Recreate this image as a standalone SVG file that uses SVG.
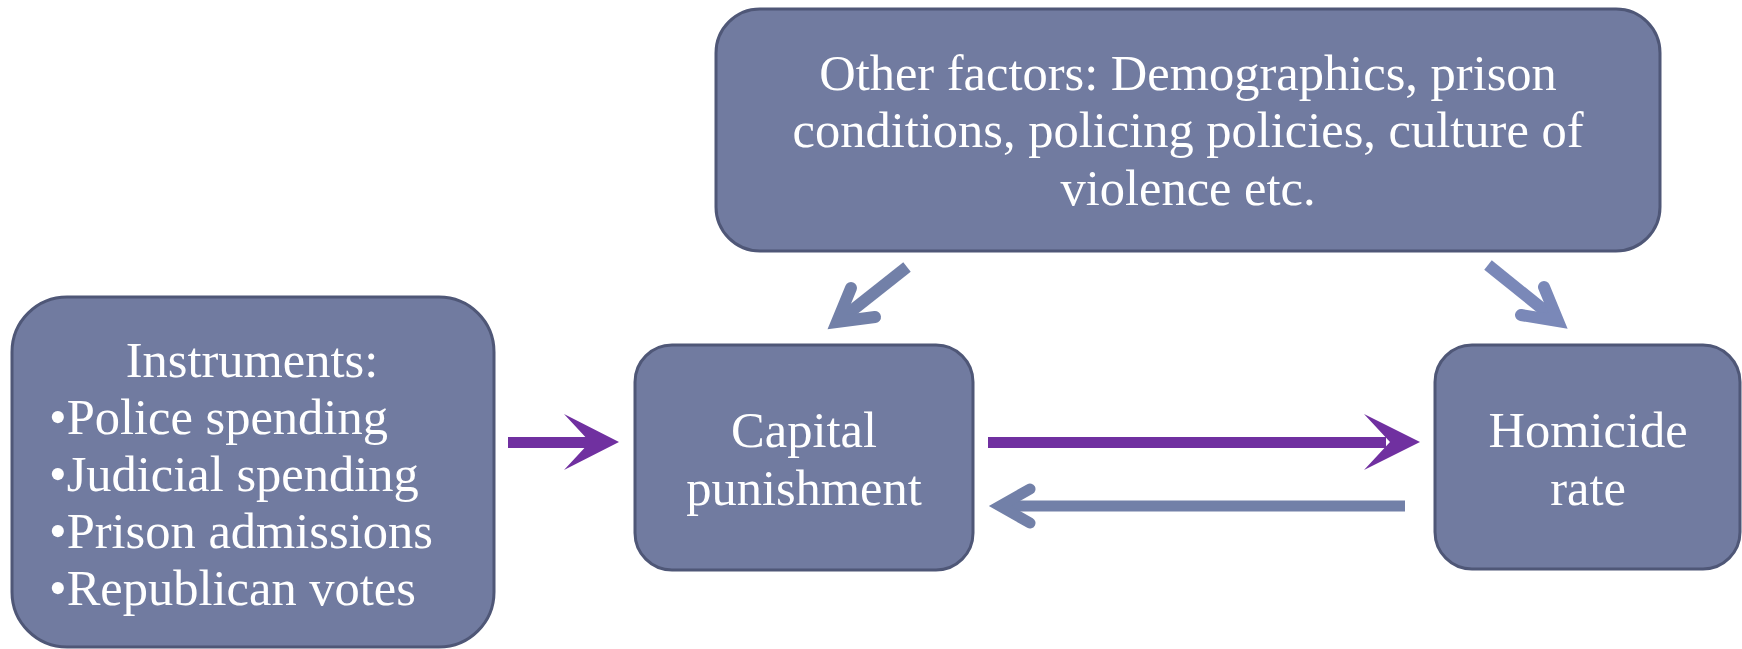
<svg xmlns="http://www.w3.org/2000/svg" width="1742" height="649" viewBox="0 0 1742 649">
<style>
.box{fill:#717BA0;stroke:#4F5777;stroke-width:3}
.t{font-family:"Liberation Serif","Times New Roman",serif;font-size:50.5px;fill:#FFFFFF}
.c{text-anchor:middle}
.purple{fill:#7030A0}
.gs{fill:none;stroke:#7280A8;stroke-width:11;stroke-linecap:butt}
.gh{fill:none;stroke:#7280A8;stroke-width:11;stroke-linecap:round;stroke-linejoin:miter;stroke-miterlimit:6}
</style>
<rect width="1742" height="649" fill="#FFFFFF"/>
<g id="instruments">
<rect class="box" x="12" y="297" width="482" height="350" rx="55" ry="55"/>
<text class="t c" x="252" y="377">Instruments:</text>
<text class="t" x="49" y="434">•Police spending</text>
<text class="t" x="49" y="491">•Judicial spending</text>
<text class="t" x="49" y="548">•Prison admissions</text>
<text class="t" x="49" y="605">•Republican votes</text>
</g>
<g id="other-factors">
<rect class="box" x="716" y="9" width="944" height="242" rx="44" ry="44"/>
<text class="t c" x="1188" y="90">Other factors: Demographics, prison</text>
<text class="t c" x="1188" y="147">conditions, policing policies, culture of</text>
<text class="t c" x="1188" y="205">violence etc.</text>
</g>
<g id="capital-punishment">
<rect class="box" x="635" y="345" width="338" height="225" rx="37" ry="37"/>
<text class="t c" x="804" y="447">Capital</text>
<text class="t c" x="804" y="505">punishment</text>
</g>
<g id="homicide-rate">
<rect class="box" x="1435" y="345" width="305" height="224" rx="37" ry="37"/>
<text class="t c" x="1588" y="447">Homicide</text>
<text class="t c" x="1588" y="505">rate</text>
</g>
<g id="connectors">
<rect class="purple" x="508" y="437" width="84" height="11"/>
<polygon class="purple" points="564,414 619,442 564,470 590,442"/>
<rect class="purple" x="988" y="437" width="398" height="11"/>
<polygon class="purple" points="1364,414 1420,442 1364,470 1390,442"/>
<line class="gs" x1="1405" y1="506" x2="1002" y2="506"/>
<polyline class="gh" points="1030,489 1000,506 1030,523"/>
<line class="gs" x1="907" y1="267" x2="840" y2="320" style="stroke-width:12"/>
<polyline class="gh" points="851,288 837,322 875,317" style="stroke-width:12"/>
<line class="gs" x1="1488" y1="265" x2="1555" y2="319" style="stroke:#7A88B8;stroke-width:12"/>
<polyline class="gh" points="1544,287 1558,321 1521,315" style="stroke:#7A88B8;stroke-width:12"/>
</g>
</svg>
